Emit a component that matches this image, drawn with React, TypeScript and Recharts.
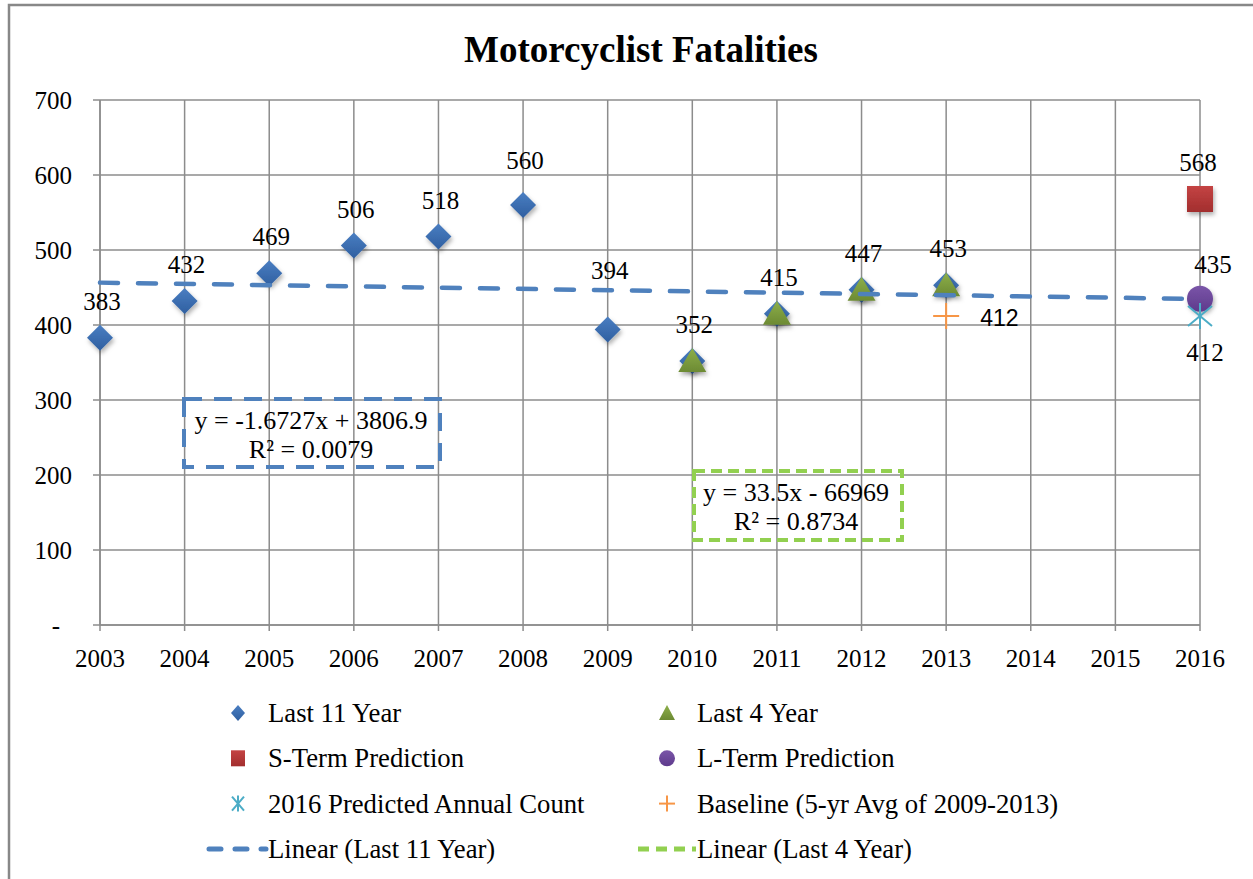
import React from 'react';
import { ComposedChart, Scatter, XAxis, YAxis, CartesianGrid } from 'recharts';

const years = [2003, 2004, 2005, 2006, 2007, 2008, 2009, 2010, 2011, 2012, 2013, 2014, 2015, 2016];
const yTicks = [0, 100, 200, 300, 400, 500, 600, 700];

const last11Years = [2003, 2004, 2005, 2006, 2007, 2008, 2009, 2010, 2011, 2012, 2013];
const last11Values = [383, 432, 469, 506, 518, 560, 394, 352, 415, 447, 453];
const last4Years = [2010, 2011, 2012, 2013];
const last4Values = [352, 415, 447, 453];
const sTermYears = [2016];
const sTermValues = [568];
const lTermYears = [2016];
const lTermValues = [435];
const predictedYears = [2016];
const predictedValues = [412];
const baselineYears = [2013];
const baselineValues = [412];
// trendline end points
const trend11Years = [2003, 2016];
const trend11Values = [456.5, 434.7];

const zip = (xs: number[], ys: number[]) => xs.map((x, i) => ({ x, y: ys[i] }));

const last11 = zip(last11Years, last11Values);
const last4 = zip(last4Years, last4Values);
const sTerm = zip(sTermYears, sTermValues);
const lTerm = zip(lTermYears, lTermValues);
const predicted = zip(predictedYears, predictedValues);
const baseline = zip(baselineYears, baselineValues);
const trend11 = zip(trend11Years, trend11Values);

// a few labels were dragged up in the original, to clear the trendline
const labelLift: Record<number, number> = { 2008: 8, 2009: 23 };

const SERIF = '"Liberation Serif", "Times New Roman", serif';
const SANS = '"Liberation Sans", Arial, sans-serif';
const GRID = '#8c8c8c';

const Label = ({ x, y, v, font = SERIF, size = 25, anchor = 'middle' }: any) => (
    <text x={x} y={y} textAnchor={anchor} fontFamily={font} fontSize={size} fill="#000">
        {v}
    </text>
);

const DiamondShape = (p: any) => {
    const { cx, cy, payload } = p;
    const r = 13;
    const lift = labelLift[payload.x] || 0;
    return (
        <g>
            <path d={`M${cx},${cy - r}L${cx + r},${cy}L${cx},${cy + r}L${cx - r},${cy}Z`} fill="url(#gBlue)" filter="url(#sh)" />
            <Label x={cx + 2} y={cy - 28 - lift} v={payload.y} />
        </g>
    );
};

const TriangleShape = (p: any) => {
    const { cx, cy } = p;
    return (
        <path d={`M${cx},${cy - 13}L${cx + 14},${cy + 11}L${cx - 14},${cy + 11}Z`} fill="url(#gGreen)" filter="url(#sh)" />
    );
};

const SquareShape = (p: any) => {
    const { cx, cy, payload } = p;
    return (
        <g>
            <rect x={cx - 13} y={cy - 13} width={26} height={26} fill="url(#gRed)" filter="url(#sh)" />
            <Label x={cx - 2} y={cy - 28} v={payload.y} />
        </g>
    );
};

const CircleShape = (p: any) => {
    const { cx, cy, payload } = p;
    return (
        <g>
            <circle cx={cx} cy={cy} r={13} fill="url(#gPurple)" filter="url(#sh)" />
            <Label x={cx + 13} y={cy - 26} v={payload.y} />
        </g>
    );
};

const AsteriskShape = (p: any) => {
    const { cx, cy, payload } = p;
    const r = 13;
    return (
        <g>
            <g stroke="#4BACC6" strokeWidth={2}>
                <line x1={cx} y1={cy - r} x2={cx} y2={cy + r} />
                <line x1={cx - 12} y1={cy - 10} x2={cx + 12} y2={cy + 10} />
                <line x1={cx + 12} y1={cy - 10} x2={cx - 12} y2={cy + 10} />
            </g>
            <Label x={cx + 5} y={cy + 45} v={payload.y} />
        </g>
    );
};

const PlusShape = (p: any) => {
    const { cx, cy, payload } = p;
    return (
        <g>
            <g stroke="#F79646" strokeWidth={2}>
                <line x1={cx} y1={cy - 13} x2={cx} y2={cy + 13} />
                <line x1={cx - 13} y1={cy} x2={cx + 13} y2={cy} />
            </g>
            <Label x={cx + 34} y={cy + 10} v={payload.y} font={SANS} size={23} anchor="start" />
        </g>
    );
};

const YTick = (p: any) => {
    const { x, y, payload } = p;
    const zero = payload.value === 0;
    return (
        <text x={zero ? x - 12 : x} y={y + 9} textAnchor="end" fontFamily={SERIF} fontSize={25} fill="#000">
            {zero ? '-' : payload.value}
        </text>
    );
};

const legendItems = [
    { name: 'Last 11 Year', col: 0, row: 0, icon: 'diamond' },
    { name: 'Last 4 Year', col: 1, row: 0, icon: 'triangle' },
    { name: 'S-Term Prediction', col: 0, row: 1, icon: 'square' },
    { name: 'L-Term Prediction', col: 1, row: 1, icon: 'circle' },
    { name: '2016 Predicted Annual Count', col: 0, row: 2, icon: 'asterisk' },
    { name: 'Baseline (5-yr Avg of 2009-2013)', col: 1, row: 2, icon: 'plus' },
    { name: 'Linear (Last 11 Year)', col: 0, row: 3, icon: 'dash11' },
    { name: 'Linear (Last 4 Year)', col: 1, row: 3, icon: 'dash4' },
];

function LegendIcon({ icon, x, y }: { icon: string; x: number; y: number }) {
    switch (icon) {
        case 'diamond':
            return <path d={`M${x},${y - 8}L${x + 7},${y}L${x},${y + 8}L${x - 7},${y}Z`} fill="url(#gBlue)" />;
        case 'triangle':
            return <path d={`M${x},${y - 8}L${x + 8},${y + 7}L${x - 8},${y + 7}Z`} fill="url(#gGreen)" />;
        case 'square':
            return <rect x={x - 7} y={y - 8} width={14} height={16} fill="url(#gRed)" />;
        case 'circle':
            return <circle cx={x} cy={y} r={8} fill="url(#gPurple)" />;
        case 'asterisk':
            return (
                <g stroke="#4BACC6" strokeWidth={2}>
                    <line x1={x} y1={y - 8} x2={x} y2={y + 8} />
                    <line x1={x - 6} y1={y - 7} x2={x + 6} y2={y + 7} />
                    <line x1={x + 6} y1={y - 7} x2={x - 6} y2={y + 7} />
                </g>
            );
        case 'plus':
            return (
                <g stroke="#F79646" strokeWidth={2}>
                    <line x1={x} y1={y - 8} x2={x} y2={y + 8} />
                    <line x1={x - 8} y1={y} x2={x + 8} y2={y} />
                </g>
            );
        case 'dash11':
            return (
                <line x1={x - 29} y1={y} x2={x + 28} y2={y} stroke="#4F81BD" strokeWidth={5}
                    strokeDasharray="12 14" strokeLinecap="round" />
            );
        case 'dash4':
            return (
                <line x1={x - 29} y1={y} x2={x + 29} y2={y} stroke="#92D050" strokeWidth={5}
                    strokeDasharray="11 7" strokeLinecap="butt" />
            );
        default:
            return null;
    }
}

export default function App() {
    const W = 1253;
    const H = 879;
    return (
        <div style={{ position: 'absolute', left: 0, top: 0, width: W, height: H, background: '#fff', overflow: 'hidden' }}>
            <svg width={0} height={0} style={{ position: 'absolute' }}>
                <defs>
                    <filter id="sh" x="-50%" y="-50%" width="200%" height="200%">
                        <feDropShadow dx="1.5" dy="3" stdDeviation="2" floodColor="#000" floodOpacity="0.3" />
                    </filter>
                    <linearGradient id="gBlue" x1="0" y1="0" x2="0" y2="1">
                        <stop offset="0" stopColor="#4A7EC2" />
                        <stop offset="1" stopColor="#2F5FA0" />
                    </linearGradient>
                    <linearGradient id="gGreen" x1="0" y1="0" x2="0" y2="1">
                        <stop offset="0" stopColor="#8DAF4A" />
                        <stop offset="1" stopColor="#6C8A33" />
                    </linearGradient>
                    <linearGradient id="gRed" x1="0" y1="0" x2="0" y2="1">
                        <stop offset="0" stopColor="#C44343" />
                        <stop offset="1" stopColor="#A22E2E" />
                    </linearGradient>
                    <linearGradient id="gPurple" x1="0" y1="0" x2="0" y2="1">
                        <stop offset="0" stopColor="#7A55A8" />
                        <stop offset="1" stopColor="#5E3A8C" />
                    </linearGradient>
                </defs>
            </svg>

            <ComposedChart width={W} height={H} margin={{ top: 100, right: 53, bottom: 214, left: 20 }}>
                <CartesianGrid stroke={GRID} strokeWidth={1.5} />
                <XAxis
                    dataKey="x"
                    type="number"
                    domain={[2003, 2016]}
                    ticks={years}
                    interval={0}
                    height={40}
                    tickSize={6}
                    tickMargin={18}
                    axisLine={{ stroke: GRID, strokeWidth: 1.5 }}
                    tickLine={{ stroke: GRID, strokeWidth: 1.5 }}
                    tick={{ fill: '#000', fontSize: 25, fontFamily: SERIF }}
                />
                <YAxis
                    dataKey="y"
                    type="number"
                    domain={[0, 700]}
                    ticks={yTicks}
                    interval={0}
                    width={80}
                    tickSize={7}
                    tickMargin={21}
                    axisLine={{ stroke: GRID, strokeWidth: 1.5 }}
                    tickLine={{ stroke: GRID, strokeWidth: 1.5 }}
                    tick={<YTick />}
                />
                <Scatter name="Last 11 Year" data={last11} dataKey="y" shape={DiamondShape} isAnimationActive={false} />
                <Scatter name="Last 4 Year" data={last4} dataKey="y" shape={TriangleShape} isAnimationActive={false} />
                <Scatter name="S-Term Prediction" data={sTerm} dataKey="y" shape={SquareShape} isAnimationActive={false} />
                <Scatter name="L-Term Prediction" data={lTerm} dataKey="y" shape={CircleShape} isAnimationActive={false} />
                <Scatter name="2016 Predicted Annual Count" data={predicted} dataKey="y" shape={AsteriskShape} isAnimationActive={false} />
                <Scatter name="Baseline (5-yr Avg of 2009-2013)" data={baseline} dataKey="y" shape={PlusShape} isAnimationActive={false} />
                <Scatter
                    name="Linear (Last 11 Year)"
                    data={trend11}
                    dataKey="y"
                    line={{ stroke: '#4F81BD', strokeWidth: 4.5, strokeDasharray: '18 20', strokeLinecap: 'round' }}
                    shape={() => <g />}
                    isAnimationActive={false}
                />
            </ComposedChart>

            <svg width={W} height={H} style={{ position: 'absolute', left: 0, top: 0, pointerEvents: 'none' }}>
                <path d={`M9,${H}V5H${W}`} fill="none" stroke="#888" strokeWidth={2.5} />
                <text x={641} y={62} textAnchor="middle" fontFamily={SERIF} fontSize={37} fontWeight="bold" fill="#000">
                    Motorcyclist Fatalities
                </text>

                <rect x={184} y={399} width={256} height={68} fill="none" stroke="#4F81BD" strokeWidth={4}
                    strokeDasharray="18 12" />
                <text x={311} y={429} textAnchor="middle" fontFamily={SERIF} fontSize={26} fill="#000">
                    y = -1.6727x + 3806.9
                </text>
                <text x={311} y={458} textAnchor="middle" fontFamily={SERIF} fontSize={26} fill="#000">
                    R² = 0.0079
                </text>

                <rect x={694} y={471} width={208} height={69} fill="none" stroke="#92D050" strokeWidth={4}
                    strokeDasharray="11 6" />
                <text x={796} y={501} textAnchor="middle" fontFamily={SERIF} fontSize={26} fill="#000">
                    y = 33.5x - 66969
                </text>
                <text x={796} y={530} textAnchor="middle" fontFamily={SERIF} fontSize={26} fill="#000">
                    R² = 0.8734
                </text>

                {legendItems.map((it) => {
                    const cy = 713 + it.row * 45.3;
                    const ix = it.col === 0 ? 238 : 667;
                    const tx = it.col === 0 ? 268 : 697;
                    return (
                        <g key={it.name}>
                            <LegendIcon icon={it.icon} x={ix} y={cy} />
                            <text x={tx} y={cy + 9} fontFamily={SERIF} fontSize={26.7} fill="#000">
                                {it.name}
                            </text>
                        </g>
                    );
                })}
            </svg>
        </div>
    );
}
